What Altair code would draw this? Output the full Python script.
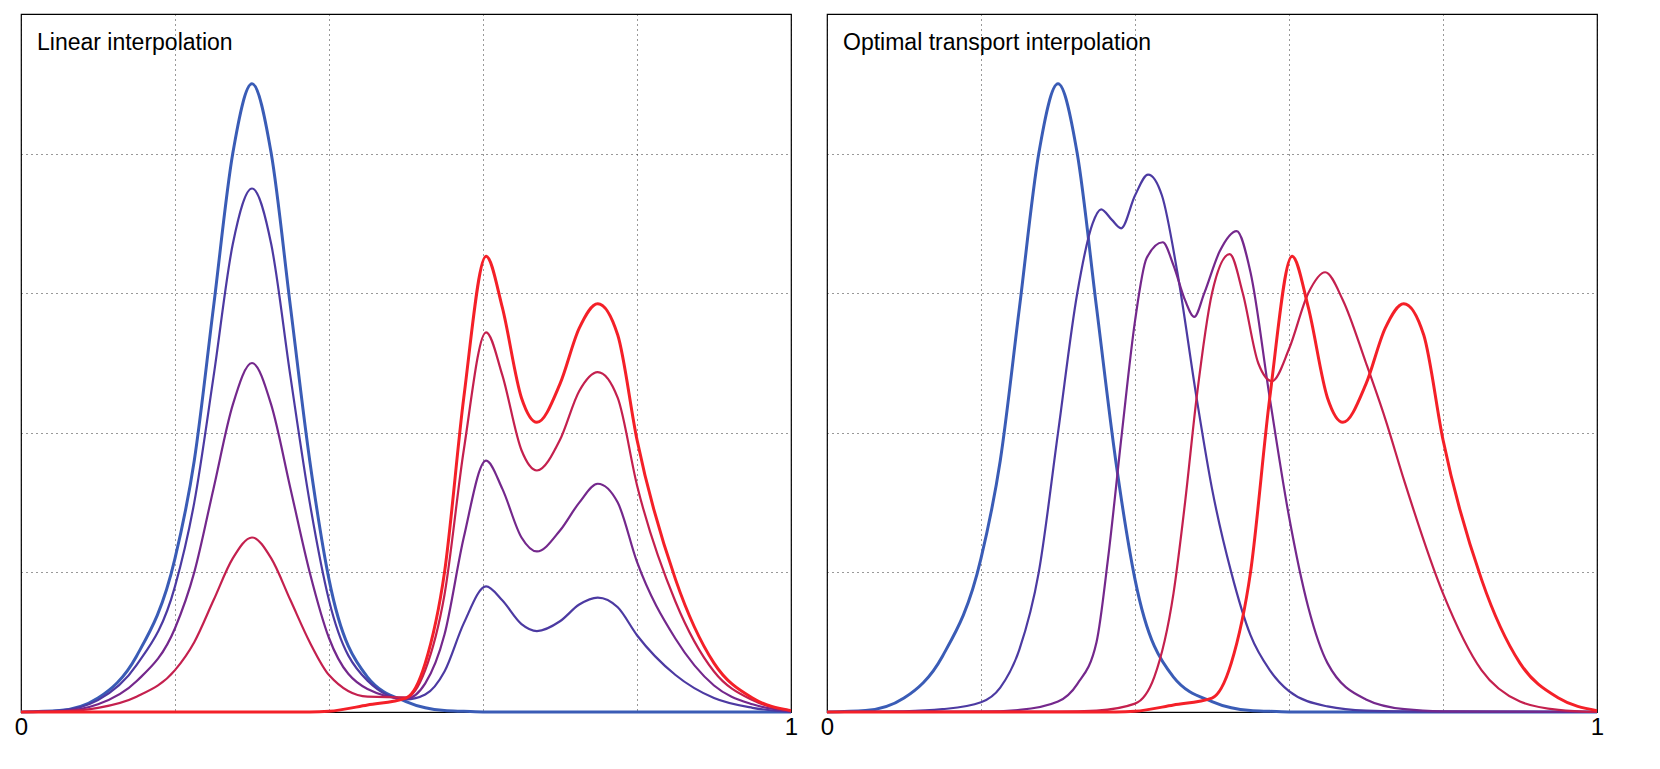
import altair as alt
import pandas as pd

# shared sample grid for the linear-interpolation panel
x_lin = [0, 0.05, 0.1, 0.15, 0.2, 0.225, 0.25, 0.275, 0.3, 0.325, 0.35, 0.375, 0.4, 0.45,
         0.5, 0.525, 0.55, 0.575, 0.604, 0.625, 0.65, 0.67, 0.7, 0.725, 0.749, 0.775, 0.8,
         0.85, 0.9, 0.95, 1.0]

lin_t0 = [0, 0.002, 0.02, 0.08, 0.22, 0.36, 0.58, 0.8, 0.9, 0.8, 0.58, 0.36, 0.19, 0.05,
          0.015, 0.006, 0.002, 0.001, 0, 0, 0, 0, 0, 0, 0, 0, 0, 0, 0, 0, 0]
lin_t1 = [0, 0.002, 0.017, 0.067, 0.18, 0.3, 0.48, 0.67, 0.75, 0.67, 0.48, 0.3, 0.16, 0.045,
          0.018, 0.025, 0.058, 0.127, 0.18, 0.16, 0.126, 0.116, 0.13, 0.154, 0.164, 0.15, 0.11,
          0.053, 0.02, 0.006, 0]
lin_t2 = [0, 0.001, 0.011, 0.044, 0.12, 0.2, 0.32, 0.44, 0.5, 0.44, 0.32, 0.2, 0.106, 0.033,
          0.019, 0.041, 0.111, 0.25, 0.36, 0.32, 0.25, 0.23, 0.26, 0.3, 0.327, 0.3, 0.215,
          0.105, 0.038, 0.011, 0.001]
lin_t3 = [0, 0.001, 0.006, 0.022, 0.06, 0.1, 0.16, 0.22, 0.25, 0.22, 0.16, 0.1, 0.053, 0.022,
          0.021, 0.06, 0.168, 0.375, 0.544, 0.483, 0.375, 0.346, 0.39, 0.46, 0.487, 0.45, 0.325,
          0.158, 0.058, 0.017, 0.002]
lin_t4 = [0, 0, 0, 0, 0, 0, 0, 0, 0, 0, 0, 0, 0.001, 0.01, 0.02, 0.07, 0.2, 0.45, 0.653, 0.58,
          0.45, 0.415, 0.47, 0.55, 0.585, 0.54, 0.39, 0.19, 0.07, 0.02, 0.002]

# optimal transport panel: intermediate curves
ot1_x = [0, 0.1, 0.15, 0.2, 0.225, 0.25, 0.275, 0.3, 0.325, 0.345, 0.356, 0.37, 0.382, 0.4,
         0.417, 0.435, 0.455, 0.48, 0.5, 0.525, 0.55, 0.575, 0.6, 0.65, 0.7, 0.8, 1.0]
ot1_y = [0, 0.001, 0.004, 0.014, 0.035, 0.09, 0.2, 0.4, 0.6, 0.7, 0.72, 0.705, 0.693, 0.74,
         0.77, 0.74, 0.63, 0.45, 0.32, 0.2, 0.11, 0.06, 0.03, 0.008, 0.002, 0.0005, 0]
ot2_x = [0, 0.2, 0.25, 0.3, 0.325, 0.35, 0.365, 0.383, 0.4, 0.415, 0.436, 0.45, 0.465, 0.477,
         0.49, 0.51, 0.532, 0.55, 0.575, 0.6, 0.625, 0.65, 0.7, 0.75, 0.8, 1]
ot2_y = [0, 0.0005, 0.003, 0.015, 0.04, 0.1, 0.22, 0.4, 0.56, 0.65, 0.673, 0.64, 0.59, 0.566,
         0.6, 0.66, 0.689, 0.63, 0.45, 0.28, 0.15, 0.07, 0.018, 0.004, 0.001, 0]
ot3_x = [0, 0.3, 0.35, 0.4, 0.425, 0.45, 0.465, 0.48, 0.5, 0.523, 0.54, 0.56, 0.578, 0.6,
         0.625, 0.647, 0.67, 0.7, 0.725, 0.75, 0.8, 0.85, 0.9, 0.95, 1]
ot3_y = [0, 0.0005, 0.002, 0.012, 0.05, 0.17, 0.3, 0.45, 0.6, 0.656, 0.6, 0.5, 0.474, 0.52,
         0.6, 0.63, 0.59, 0.5, 0.42, 0.33, 0.17, 0.06, 0.015, 0.003, 0]

curves = ["c0", "c1", "c2", "c3", "c4"]
colors = ["#3a5cb6", "#4c3aa2", "#74288c", "#c4204e", "#f42028"]
widths = [3, 2.2, 2.2, 2.2, 3]


def frame(pairs):
    rows = []
    for name, xs, ys in pairs:
        for a, b in zip(xs, ys):
            rows.append({"x": a, "y": b, "curve": name})
    return pd.DataFrame(rows)


lin_df = frame([("c0", x_lin, lin_t0), ("c1", x_lin, lin_t1), ("c2", x_lin, lin_t2),
                ("c3", x_lin, lin_t3), ("c4", x_lin, lin_t4)])
ot_df = frame([("c0", x_lin, lin_t0), ("c1", ot1_x, ot1_y), ("c2", ot2_x, ot2_y),
               ("c3", ot3_x, ot3_y), ("c4", x_lin, lin_t4)])


def panel(df, title):
    lines = alt.Chart(df).mark_line(interpolate="monotone").encode(
        x=alt.X("x:Q", scale=alt.Scale(domain=[0, 1], nice=False),
                axis=alt.Axis(values=[0, 0.2, 0.4, 0.6, 0.8, 1], title=None,
                              labelExpr="datum.value == 0 ? '0' : (datum.value == 1 ? '1' : '')",
                              labelFontSize=24, labelFont="Liberation Sans", labelColor="#000",
                              ticks=False, domain=False, labelPadding=3,
                              labelFlush=False)),
        y=alt.Y("y:Q", scale=alt.Scale(domain=[0, 1], nice=False),
                axis=alt.Axis(values=[0.2, 0.4, 0.6, 0.8], title=None, labels=False,
                              ticks=False, domain=False)),
        color=alt.Color("curve:N", scale=alt.Scale(domain=curves, range=colors), legend=None),
        strokeWidth=alt.StrokeWidth("curve:O", scale=alt.Scale(type="ordinal", domain=curves,
                                                               range=widths),
                                    legend=None),
    )
    label = alt.Chart(pd.DataFrame({"t": [title]})).mark_text(
        align="left", baseline="top", fontSize=23, font="Liberation Sans", color="#000"
    ).encode(x=alt.value(16), y=alt.value(18), text="t:N")
    return (lines + label).properties(width=770, height=698)


chart = alt.hconcat(
    panel(lin_df, "Linear interpolation"),
    panel(ot_df, "Optimal transport interpolation"),
    spacing=20,
).configure_axis(
    grid=True, gridColor="#000", gridDash=[1, 4], gridOpacity=0.8
).configure_view(stroke="#000", strokeWidth=1.2)

chart.save("out.html", embed_options={"renderer": "svg", "actions": False})
